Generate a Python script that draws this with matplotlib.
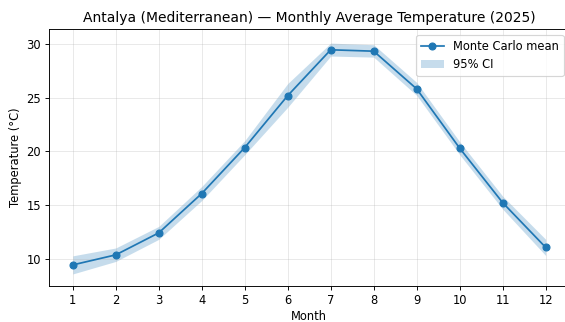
import matplotlib
matplotlib.use("Agg")
import matplotlib.pyplot as plt
import numpy as np

months = [1, 2, 3, 4, 5, 6, 7, 8, 9, 10, 11, 12]
mean_temp = [9.48, 10.41, 12.45, 16.1, 20.36, 25.18, 29.43, 29.3, 25.8, 20.3, 15.25, 11.1]
ci_low = [8.64, 9.8, 11.85, 15.45, 19.7, 24.1, 28.85, 28.75, 25.2, 19.7, 14.65, 10.35]
ci_high = [10.32, 11.05, 13.05, 16.75, 21.0, 26.3, 30.05, 29.9, 26.4, 20.9, 15.85, 11.85]

title = "Antalya (Mediterranean) — Monthly Average Temperature (2025)"

DPI = 83
fig = plt.figure(figsize=(565 / DPI, 322 / DPI), dpi=DPI)
ax = fig.add_axes([0.0869, 0.1127, 1.0077 - 0.0869, 0.909 - 0.1127])

ax.plot(months, mean_temp, marker="o", color="#1f77b4", label="Monte Carlo mean")
ax.fill_between(months, ci_low, ci_high, color="#1f77b4", alpha=0.25, linewidth=0, label="95% CI")

ax.set_xticks(months)
ax.set_ylim(7.55, 31.33)
ax.set_xlabel("Month", labelpad=2.5)
ax.set_ylabel("Temperature (°C)")
ax.set_title(title)
ax.grid(True, alpha=0.3)
ax.legend(loc="upper right")

fig.savefig("out.png", dpi=DPI)
